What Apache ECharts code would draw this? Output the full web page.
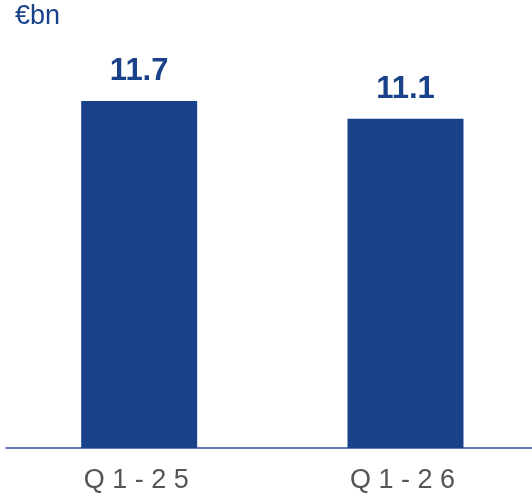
<!DOCTYPE html>
<html><head><meta charset="utf-8">
<script src="https://cdn.jsdelivr.net/npm/echarts@6/dist/echarts.min.js"></script>
<style>html,body{margin:0;padding:0;background:#fff}#c{width:532px;height:494px}</style>
</head><body><div id="c"></div>
<script>
const categories = ["Q 1 - 2 5", "Q 1 - 2 6"];
const values = [11.7, 11.1];
const unitLabel = "€bn";

const chart = echarts.init(document.getElementById('c'), null, {renderer: 'canvas'});
chart.setOption({
  animation: false,
  backgroundColor: '#ffffff',
  graphic: [{
    type: 'text', left: 15, top: 3,
    style: {text: unitLabel, fill: '#1a428a', font: '27px "Liberation Sans", Arial, sans-serif'}
  }],
  grid: {left: 6, right: 0, top: 92, bottom: 46, containLabel: false},
  xAxis: {
    type: 'value', min: -0.5, max: 1.475,
    splitLine: {show: false},
    axisLine: {show: true, onZero: false, lineStyle: {color: '#2a4f9a', width: 1.5}},
    axisTick: {show: false},
    axisLabel: {customValues: [0, 1], formatter: v => categories[Math.round(v)] || '',
      color: '#555555', fontSize: 27, fontFamily: '"Liberation Sans", Arial, sans-serif', margin: 19, padding: [0, 6, 0, 0]}
  },
  yAxis: {type: 'value', min: 0, max: 12, show: false, splitLine: {show: false}},
  series: [{
    type: 'bar', data: values.map((v, i) => [i, v]), barWidth: 116,
    itemStyle: {color: '#18418a'},
    label: {show: true, position: 'top', distance: 14, color: '#1a428a', fontSize: 31, fontWeight: 'bold',
      fontFamily: '"Liberation Sans", Arial, sans-serif', formatter: p => p.value[1].toFixed(1)}
  }]
});
</script></body></html>
